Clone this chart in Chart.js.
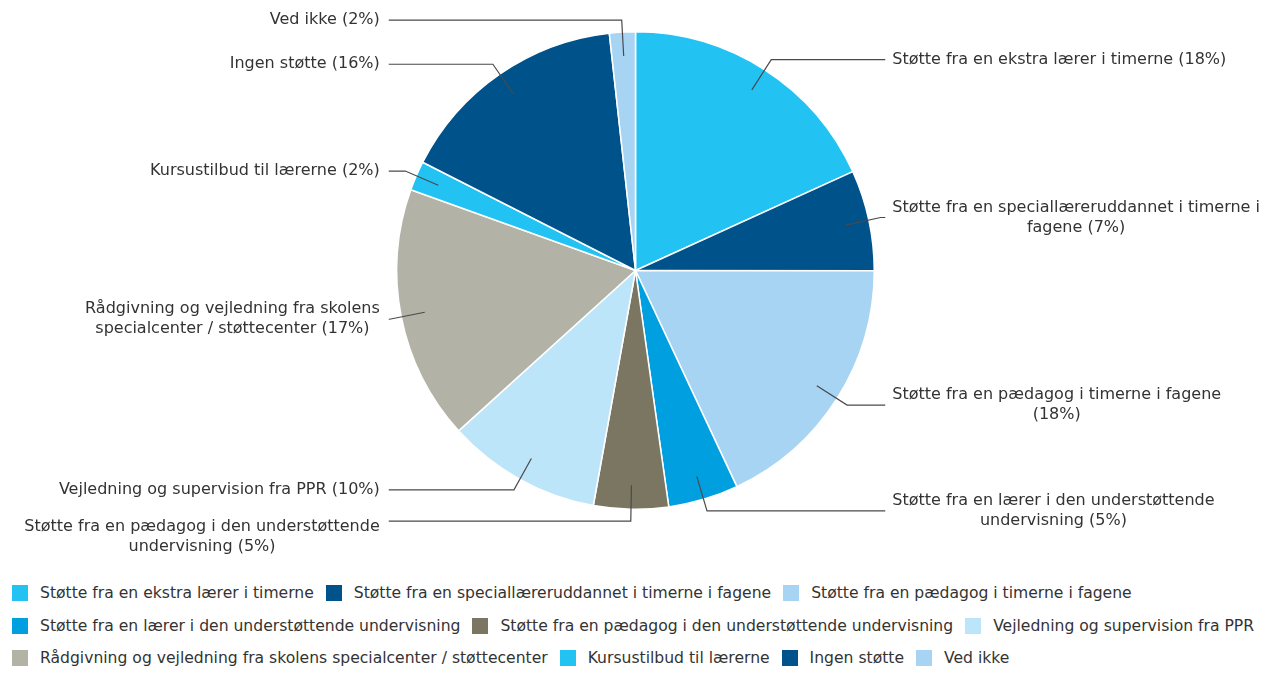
<!DOCTYPE html>
<html lang="da">
<head>
<meta charset="utf-8">
<title>Støtte</title>
<script src="https://cdn.jsdelivr.net/npm/chart.js@4/dist/chart.umd.min.js"></script>
<style>
  html, body { margin: 0; padding: 0; background: #fff; }
  body { width: 1271px; height: 674px; position: relative; overflow: hidden; font-family: "DejaVu Sans", Verdana, sans-serif; }
  #chartWrap { position: absolute; left: 0; top: 0; width: 1271px; height: 566px; }
  #legend { position: absolute; left: 12px; top: 583px; width: 1262px; display: flex; flex-wrap: wrap; row-gap: 12.5px; column-gap: 12px; }
  .lg-item { display: flex; align-items: center; height: 20px; font-size: 15.6px; color: #333; white-space: nowrap; }
  .lg-box { width: 16px; height: 16px; margin-right: 12px; }
</style>
</head>
<body>
<div id="chartWrap"><canvas id="pieChart" width="1271" height="566"></canvas></div>
<div id="legend"></div>
<script>
// categories (same order as the slices, clockwise from the top)
const categories = [
  "Støtte fra en ekstra lærer i timerne",
  "Støtte fra en speciallæreruddannet i timerne i fagene",
  "Støtte fra en pædagog i timerne i fagene",
  "Støtte fra en lærer i den understøttende undervisning",
  "Støtte fra en pædagog i den understøttende undervisning",
  "Vejledning og supervision fra PPR",
  "Rådgivning og vejledning fra skolens specialcenter / støttecenter",
  "Kursustilbud til lærerne",
  "Ingen støtte",
  "Ved ikke"
];

// shares in percent
const shares = [18.2, 6.8, 18.0, 4.75, 5.05, 10.45, 17.2, 2.0, 15.75, 1.75];

const sliceColors = [
  "#22c3f3", "#00528a", "#a8d4f4", "#009fe0", "#7a7662",
  "#bde5f9", "#b2b2a7", "#22c3f3", "#00528a", "#a8d4f4"
];

const FONT = '16px "DejaVu Sans", Verdana, sans-serif';
const LINE_H = 20;
const WRAP_W = 372;

function wrapText(ctx, text, maxW) {
  const words = text.split(" ");
  const lines = [];
  let cur = "";
  words.forEach(w => {
    const test = cur ? cur + " " + w : w;
    if (ctx.measureText(test).width > maxW && cur) {
      lines.push(cur);
      cur = w;
    } else {
      cur = test;
    }
  });
  if (cur) lines.push(cur);
  return lines;
}

// outside labels with leader lines
const outsideLabels = {
  id: "outsideLabels",
  afterDatasetsDraw(chart, args, opts) {
    const ctx = chart.ctx;
    const meta = chart.getDatasetMeta(0);
    ctx.save();
    ctx.font = FONT;
    meta.data.forEach((arc, i) => {
      const r = arc.outerRadius;
      const mid = (arc.startAngle + arc.endAngle) / 2;
      const cx = arc.x, cy = arc.y;
      const sx = cx + Math.cos(mid) * r * 0.9;
      const sy = cy + Math.sin(mid) * r * 0.9;
      const ex = cx + Math.cos(mid) * (r + 12);
      const ey = cy + Math.sin(mid) * (r + 12);
      const right = Math.cos(mid) >= 0;
      const lineEnd = right ? cx + r + 11 : cx - r - 8;
      const textX = right ? cx + r + 18 : cx - r - 17;

      ctx.strokeStyle = "#4a4a4a";
      ctx.lineWidth = 1.2;
      ctx.beginPath();
      ctx.moveTo(sx, sy);
      ctx.lineTo(ex, ey);
      ctx.lineTo(lineEnd, ey);
      ctx.stroke();

      const pct = Math.round(shares[i]);
      const lines = wrapText(ctx, categories[i] + " (" + pct + "%)", WRAP_W);
      const blockW = Math.max(...lines.map(l => ctx.measureText(l).width));
      const nudge = (opts.nudge && opts.nudge[i]) || 0;
      const top = ey + nudge - (lines.length * LINE_H) / 2;
      const centerX = right ? textX + blockW / 2 : textX - blockW / 2;
      ctx.fillStyle = "#333";
      ctx.textAlign = "center";
      ctx.textBaseline = "middle";
      lines.forEach((l, k) => {
        ctx.fillText(l, centerX, top + LINE_H * k + LINE_H / 2);
      });
    });
    ctx.restore();
  }
};

const htmlLegend = {
  id: "htmlLegend",
  afterUpdate(chart) {
    const box = document.getElementById("legend");
    box.innerHTML = "";
    const items = chart.options.plugins.legend.labels.generateLabels(chart);
    items.forEach(item => {
      const el = document.createElement("div");
      el.className = "lg-item";
      const sw = document.createElement("span");
      sw.className = "lg-box";
      sw.style.background = item.fillStyle;
      const tx = document.createElement("span");
      tx.textContent = item.text;
      el.appendChild(sw);
      el.appendChild(tx);
      box.appendChild(el);
    });
  }
};

const ctxPie = document.getElementById("pieChart").getContext("2d");
new Chart(ctxPie, {
  type: "pie",
  data: {
    labels: categories,
    datasets: [{
      data: shares,
      backgroundColor: sliceColors,
      borderColor: "#ffffff",
      borderWidth: 1.5
    }]
  },
  options: {
    responsive: false,
    animation: false,
    layout: { padding: { top: 31, bottom: 56 } },
    plugins: {
      legend: { display: false },
      tooltip: { enabled: false },
      outsideLabels: { nudge: { 4: 16 } }
    }
  },
  plugins: [outsideLabels, htmlLegend]
});
</script>
</body>
</html>
